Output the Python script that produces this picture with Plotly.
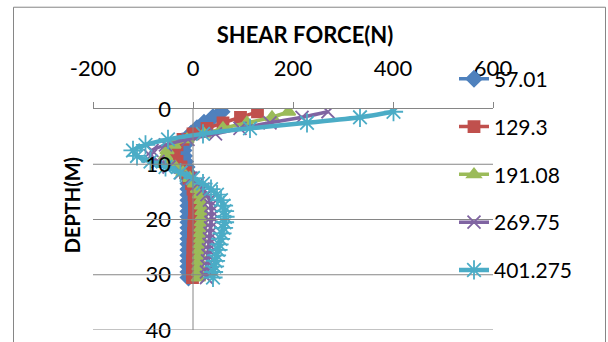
import plotly.graph_objects as go

# ---- data ----
depth = [0.5 + i for i in range(31)]

series_names = ["57.01", "129.3", "191.08", "269.75", "401.275"]

s_57 = [57, 40, 22, 8, -4, -12, -17, -19, -18, -16, -13, -11, -10, -9, -9, -9,
        -9, -9, -9, -9, -9, -9, -9, -9, -9, -9, -9, -9, -9, -9, -9]
s_129 = [129, 95, 60, 28, 0, -20, -32, -38, -38, -32, -24, -15, -8, -3, 0, 2,
         3, 3, 3, 3, 2, 2, 1, 1, 0, 0, 0, -1, -1, -1, -1]
s_191 = [191, 158, 108, 60, 22, -12, -38, -52, -55, -48, -35, -20, -6, 3, 9, 13,
         16, 17, 18, 18, 17, 16, 15, 15, 14, 13, 13, 12, 12, 11, 11]
s_270 = [270, 218, 154, 94, 45, -10, -55, -82, -85, -70, -48, -24, -4, 10, 20, 28,
         33, 36, 37, 37, 36, 35, 34, 33, 32, 31, 30, 29, 28, 27, 27]
s_401 = [401, 334, 228, 114, 20, -50, -95, -120, -112, -85, -55, -25, 0, 20, 36, 48,
         56, 61, 63, 64, 63, 61, 58, 55, 52, 50, 47, 45, 43, 41, 40]

x_ticks = [-200, 0, 200, 400, 600]
y_ticks = [0, 10, 20, 30, 40]

# ---- styles ----
colors = ["#4F81BD", "#C0504D", "#9BBB59", "#8064A2", "#4BACC6"]
symbols = ["diamond", "square", "triangle-up", "x-thin-open", "asterisk-open"]
msizes = [12, 11, 12, 13, 16]
lwidths = [3.5, 3.5, 3.5, 3.5, 4.5]
all_series = [s_57, s_129, s_191, s_270, s_401]

FONT = "Lato"
GRID = "#868686"
fig = go.Figure()
for i, (name, vals) in enumerate(zip(series_names, all_series)):
    fig.add_trace(go.Scatter(
        x=vals, y=depth, name=name, mode="lines+markers",
        legendgroup=name,
        line=dict(color=colors[i], width=lwidths[i], shape="spline", smoothing=0.6),
        marker=dict(symbol=symbols[i], size=msizes[i], color=colors[i],
                    line=dict(color=colors[i], width=1.8)),
    ))
# invisible helper so the label axis (placed at x = 0) is rendered
fig.add_trace(go.Scatter(x=s_57, y=depth, yaxis="y2", mode="markers", opacity=0,
                         showlegend=False, hoverinfo="skip"))

W, H = 608, 342
L, R, T, B = 93, 493, 108.5, 330
fig.update_layout(
    width=W, height=H,
    margin=dict(l=L, r=W - R, t=T, b=H - B, autoexpand=False),
    paper_bgcolor="white", plot_bgcolor="rgba(0,0,0,0)",
    font=dict(family=FONT, color="black", size=21),
    showlegend=True,
    legend=dict(x=(454 - L) / (R - L), xanchor="left", y=(B - 58) / (B - T), yanchor="top",
                font=dict(family=FONT, size=21, color="black"), maxheight=400,
                bgcolor="rgba(0,0,0,0)", tracegroupgap=17.5, itemclick=False),
    title=dict(text="<b>SHEAR FORCE(N)</b>", x=305 / W, xanchor="center",
               y=1 - 35 / H, yanchor="middle",
               font=dict(family=FONT, size=22, color="black")),
    xaxis=dict(
        side="top", anchor="y", range=[-200, 600], tickvals=x_ticks,
        ticktext=[str(v) for v in x_ticks],
        showgrid=False, zeroline=False,
        showline=True, linecolor=GRID, linewidth=1,
        ticks="outside", ticklen=6, tickcolor=GRID, ticklabelstandoff=17,
        tickfont=dict(family=FONT, size=22, color="black"),
    ),
    yaxis=dict(
        anchor="x", range=[40, 0], tickvals=y_ticks,
        showgrid=False, zeroline=False,
        showline=False, ticks="", showticklabels=False,
    ),
    yaxis2=dict(
        overlaying="y", anchor="free", position=0.25, side="left",
        range=[40, 0], tickvals=y_ticks, showgrid=False, zeroline=False,
        showline=False, ticks="", ticklabelstandoff=22, ticklabeloverflow="allow",
        tickfont=dict(family=FONT, size=22, color="black"),
    ),
)
# horizontal major gridlines at the y tick values
for v in y_ticks[1:]:
    fig.add_shape(type="line", xref="paper", yref="y", x0=0, x1=1, y0=v, y1=v,
                  line=dict(color=GRID, width=1), layer="above")
# vertical axis line at x = 0
fig.add_shape(type="line", xref="x", yref="paper", x0=0, x1=0, y0=0, y1=1,
              line=dict(color=GRID, width=1), layer="above")
fig.add_annotation(text="<b>DEPTH(M)</b>", textangle=-90, xref="paper", yref="paper",
                   x=(58 - L) / (R - L), y=(B - 205) / (B - T), showarrow=False,
                   font=dict(family=FONT, size=20, color="black"))
# outer chart border
fig.add_shape(type="rect", xref="paper", yref="paper",
              x0=(13.5 - L) / (R - L), x1=(605.5 - L) / (R - L),
              y0=(B - 360) / (B - T), y1=(B - 6.5) / (B - T),
              line=dict(color=GRID, width=1), fillcolor="rgba(0,0,0,0)", layer="above")
fig.write_html("out.html")
